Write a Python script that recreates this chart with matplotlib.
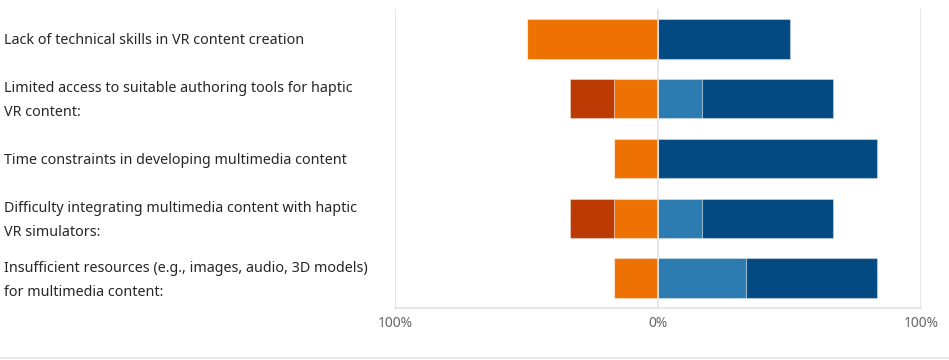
import matplotlib.pyplot as plt
import numpy as np
from matplotlib.lines import Line2D

# data (share of respondents, %)
statements = [
    'Lack of technical skills in VR content creation',
    'Limited access to suitable authoring tools for haptic\nVR content:',
    'Time constraints in developing multimedia content',
    'Difficulty integrating multimedia content with haptic\nVR simulators:',
    'Insufficient resources (e.g., images, audio, 3D models)\nfor multimedia content:',
]
strongly_disagree = [0, 16.7, 0, 16.7, 0]
disagree = [50, 16.7, 16.7, 16.7, 16.7]
agree = [0, 16.7, 0, 16.7, 33.3]
strongly_agree = [50, 50, 83.3, 50, 50]
tick_values = [-100, 0, 100]
tick_labels = ['100%', '0%', '100%']

c_sd = '#bc3a03'
c_d = '#ed7203'
c_a = '#2c7bb0'
c_sa = '#034a82'

plt.rcParams['font.family'] = ['Noto Sans', 'DejaVu Sans']

fig = plt.figure(figsize=(9.49, 3.6), dpi=100)
ax = fig.add_axes([395 / 949, 52 / 360, 526 / 949, 299 / 360])

y = np.arange(len(statements))
h = 0.66
sd = np.array(strongly_disagree)
d = np.array(disagree)
a = np.array(agree)
sa = np.array(strongly_agree)

edge = dict(edgecolor=(1, 1, 1, 0.35), linewidth=0.8, zorder=3)
ax.barh(y, -d, height=h, color=c_d, **edge)
ax.barh(y, -sd, left=-d, height=h, color=c_sd, **edge)
ax.barh(y, a, height=h, color=c_a, **edge)
ax.barh(y, sa, left=a, height=h, color=c_sa, **edge)

ax.set_xlim(-100, 100)
ax.set_ylim(len(statements) - 0.5, -0.5)
ax.set_xticks(tick_values)
ax.set_xticklabels(tick_labels)
ax.tick_params(axis='x', length=0, pad=6, labelsize=10, labelcolor='#666666')
ax.set_yticks([])

for v in tick_values:
    ax.axvline(v, color='#e3e3e3', linewidth=1.2, zorder=4 if v == 0 else 1)

for s in ['top', 'left', 'right']:
    ax.spines[s].set_visible(False)
ax.spines['bottom'].set_color('#e3e3e3')
ax.spines['bottom'].set_linewidth(1.2)

for i, label in enumerate(statements):
    fig.text(4 / 949, 1 - (40.5 + 60 * i) / 360, label, ha='left', va='center',
             fontsize=10.3, color='#262626', linespacing=1.75)

fig.add_artist(Line2D([0, 1], [2 / 360, 2 / 360], color='#e6e6e6', linewidth=1.2))

fig.savefig('out.png', dpi=100)
